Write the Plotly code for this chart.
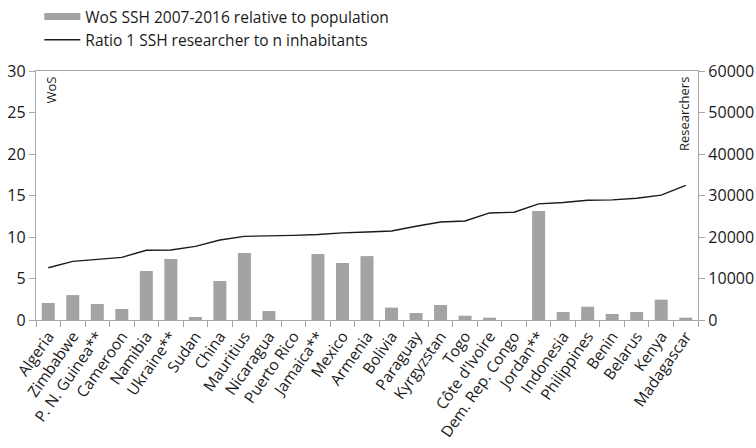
import plotly.graph_objects as go

countries = ["Algeria", "Zimbabwe", "P. N. Guinea**", "Cameroon", "Namibia", "Ukraine**",
             "Sudan", "China", "Mauritius", "Nicaragua", "Puerto Rico", "Jamaica**", "Mexico",
             "Armenia", "Bolivia", "Paraguay", "Kyrgyzstan", "Togo", "Côte d'Ivoire",
             "Dem. Rep. Congo", "Jordan**", "Indonesia", "Philippines", "Benin", "Belarus",
             "Kenya", "Madagascar"]

wos = [2.05, 3.0, 1.93, 1.33, 5.9, 7.35, 0.36, 4.7, 8.07, 1.08, 0.0, 7.95, 6.87,
       7.7, 1.49, 0.84, 1.81, 0.52, 0.28, 0.0, 13.13, 0.96, 1.6, 0.72, 0.96, 2.45, 0.28]

researchers = [12600, 14140, 14600, 15100, 16800, 16870, 17750, 19280, 20160, 20240,
               20400, 20600, 21000, 21200, 21450, 22580, 23630, 23870, 25800, 25970,
               27980, 28310, 28870, 28950, 29350, 30080, 32420]

left_ticks = [0, 5, 10, 15, 20, 25, 30]
right_ticks = [0, 10000, 20000, 30000, 40000, 50000, 60000]
right_labels = ["0", "10000", "20000", "30000", "40000", "50000", "60000"]

bar_name = "WoS SSH 2007-2016 relative to population"
line_name = "Ratio 1 SSH researcher to n inhabitants"

FONT = "Open Sans, DejaVu Sans, sans-serif"
TXT = "#1a1a1a"
AX = "#a8a8a8"
BAR = "#a3a3a3"

fig = go.Figure()

# legend proxy for the bar series (wide rectangle swatch)
fig.add_trace(go.Scatter(x=[None], y=[None], mode="lines", name=bar_name,
                         line=dict(color=BAR, width=7), showlegend=True))

fig.add_trace(go.Bar(x=countries, y=wos, name=bar_name, marker_color=BAR,
                     marker_line_width=0, showlegend=False))

fig.add_trace(go.Scatter(x=countries, y=researchers, name=line_name, mode="lines",
                         line=dict(color=TXT, width=1.4), yaxis="y2"))

fig.update_layout(
    width=756, height=448,
    margin=dict(l=36, r=58, t=71, b=128, autoexpand=False),
    paper_bgcolor="white", plot_bgcolor="white",
    font=dict(family=FONT, size=15, color=TXT),
    bargap=0.47,
    showlegend=True,
    legend=dict(xref="container", yref="container", x=0.052, y=1.0,
                xanchor="left", yanchor="top",
                bgcolor="rgba(0,0,0,0)", font=dict(size=15.5),
                itemwidth=36, tracegroupgap=0),
    xaxis=dict(type="category", showline=True, linecolor=AX, linewidth=1.3,
               mirror=True, ticks="outside", tickson="boundaries", ticklen=6,
               tickcolor=AX, tickangle=-55, showgrid=False, automargin=False,
               tickfont=dict(size=15.5, color=TXT)),
    yaxis=dict(range=[0, 30], tickvals=left_ticks, showline=True, linecolor=AX,
               linewidth=1.3, ticks="outside", ticklen=6, tickcolor=AX,
               showgrid=False, zeroline=False, automargin=False,
               tickfont=dict(size=16, color=TXT)),
    yaxis2=dict(range=[0, 60000], tickvals=right_ticks, ticktext=right_labels,
                overlaying="y", side="right", automargin=False,
                showline=True, linecolor=AX, linewidth=1.3, ticks="outside", ticklen=6,
                tickcolor=AX, showgrid=False, zeroline=False,
                tickfont=dict(size=16, color=TXT)),
    annotations=[
        dict(text="WoS", x=0, y=1, xref="paper", yref="paper", xanchor="left",
             yanchor="top", xshift=3, yshift=-4, textangle=-90, showarrow=False,
             font=dict(size=13, color=TXT)),
        dict(text="Researchers", x=1, y=1, xref="paper", yref="paper", xanchor="right",
             yanchor="top", xshift=-3, yshift=-4, textangle=-90, showarrow=False,
             font=dict(size=13, color=TXT)),
    ],
)

fig.write_html("out.html", config={"displayModeBar": False},
               post_script="document.body.style.margin='0';document.body.style.padding='0';")
